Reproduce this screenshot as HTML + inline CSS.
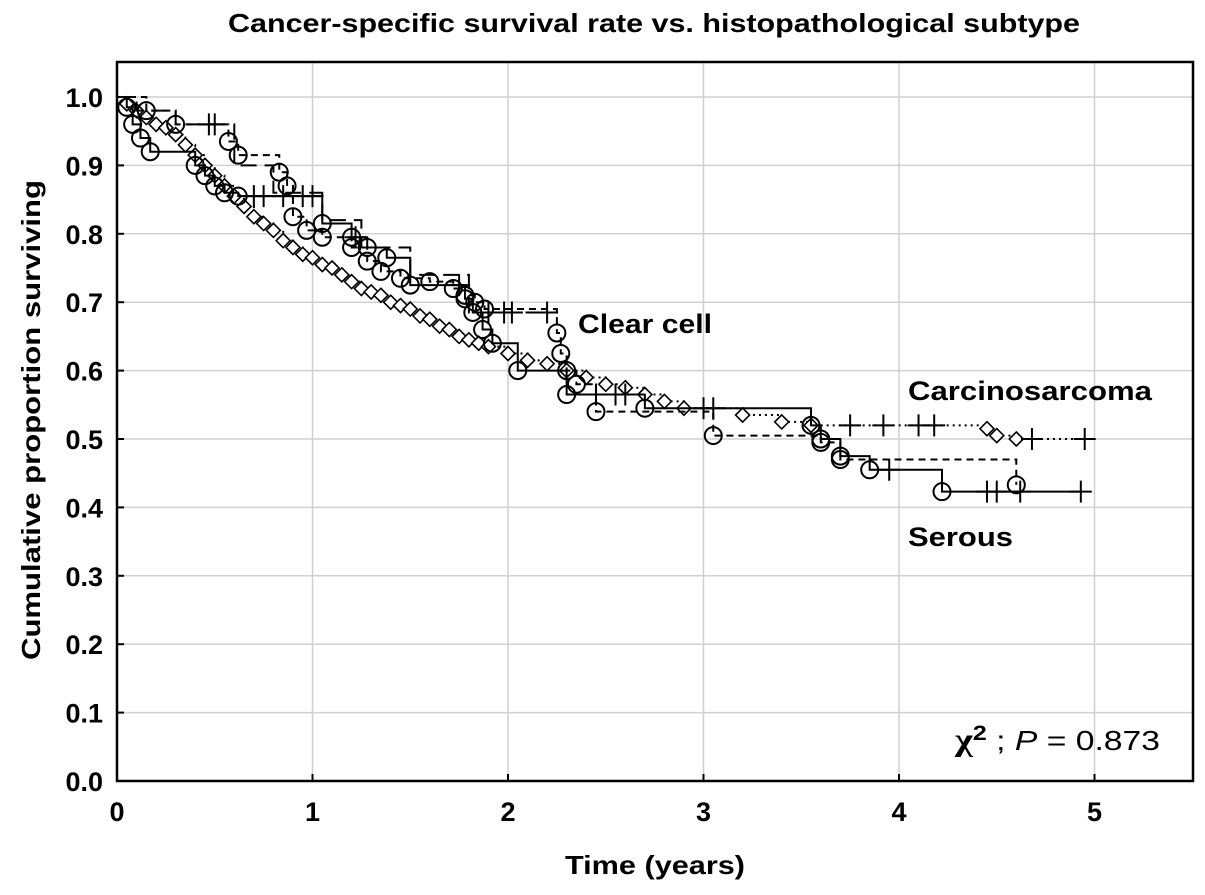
<!DOCTYPE html>
<html><head><meta charset="utf-8"><style>
body{margin:0;background:#fff}
svg{display:block;font-family:"Liberation Sans",Arial,sans-serif}
</style></head><body>
<svg id="c" width="1205" height="895" xmlns="http://www.w3.org/2000/svg">
<text x="228" y="32" font-size="26" font-weight="bold" textLength="852" lengthAdjust="spacingAndGlyphs">Cancer-specific survival rate vs. histopathological subtype</text>
<g id="grid"></g>
<g id="axes"></g>
<g id="series"></g>
<text transform="translate(40,660) rotate(-90)" font-size="26" font-weight="bold" textLength="480" lengthAdjust="spacingAndGlyphs">Cumulative proportion surviving</text>
<text x="565" y="874" font-size="26" font-weight="bold" textLength="180" lengthAdjust="spacingAndGlyphs">Time (years)</text>
<text x="578" y="333" font-size="27" font-weight="bold" textLength="134" lengthAdjust="spacingAndGlyphs">Clear cell</text>
<text x="908" y="400" font-size="27" font-weight="bold" textLength="244" lengthAdjust="spacingAndGlyphs">Carcinosarcoma</text>
<text x="908" y="546" font-size="27" font-weight="bold" textLength="105" lengthAdjust="spacingAndGlyphs">Serous</text>
<text x="955" y="750" font-size="28" textLength="205" lengthAdjust="spacingAndGlyphs"><tspan font-weight="bold" font-family="Liberation Serif,serif" font-size="32">χ</tspan><tspan font-weight="bold" dy="-10" font-size="21">2</tspan><tspan dy="10"> ; </tspan><tspan font-style="italic">P</tspan><tspan> = 0.873</tspan></text>
</svg>
<script>
const xTicks=[0,1,2,3,4,5];
const yTicks=[0,0.1,0.2,0.3,0.4,0.5,0.6,0.7,0.8,0.9,1.0];
const serousT=[0.05,0.08,0.12,0.17,0.4,0.45,0.5,0.55,0.62,1.05,1.2,1.28,1.38,1.5,1.78,1.82,1.87,1.92,2.05,2.3,2.7,3.55,3.6,3.7,3.85,4.22];
const serousS=[0.985,0.96,0.94,0.92,0.9,0.885,0.87,0.86,0.855,0.815,0.795,0.78,0.765,0.725,0.705,0.685,0.66,0.64,0.6,0.565,0.545,0.52,0.5,0.475,0.455,0.423];
const serousCensT=[0.7,0.75,0.85,0.95,1.0,1.22,1.75,2.45,2.55,2.6,3.0,3.05,3.95,4.45,4.5,4.62,4.93];
const serousEnd=4.93;
const dashT=[0.15,0.3,0.57,0.62,0.83,0.87,0.9,0.97,1.05,1.2,1.28,1.35,1.45,1.6,1.72,1.78,1.83,1.88,2.25,2.27,2.3,2.35,2.45,3.05,3.6,3.7,4.6];
const dashS=[0.98,0.96,0.935,0.915,0.89,0.87,0.825,0.805,0.795,0.78,0.76,0.745,0.735,0.73,0.72,0.71,0.7,0.69,0.655,0.625,0.6,0.58,0.54,0.505,0.495,0.47,0.433];
const dashCensT=[0.5];
const dashEnd=4.6;
const clearT=[0.1,0.3,0.6,0.8,1.05,1.25,1.5,1.8];
const clearS=[0.98,0.96,0.9,0.86,0.82,0.78,0.74,0.685];
const clearCensT=[0.47,1.9,1.98,2.02,2.2];
const clearEnd=2.25;
const carcT=[0.05,0.1,0.15,0.2,0.25,0.3,0.35,0.4,0.45,0.5,0.55,0.6,0.65,0.7,0.75,0.8,0.85,0.9,0.95,1.0,1.05,1.1,1.15,1.2,1.25,1.3,1.35,1.4,1.45,1.5,1.55,1.6,1.65,1.7,1.75,1.8,1.85,1.9,2.0,2.1,2.2,2.3,2.4,2.5,2.6,2.7,2.8,2.9,3.2,3.4,3.55,4.45,4.5,4.6];
const carcS=[0.99,0.98,0.97,0.96,0.955,0.945,0.93,0.915,0.9,0.885,0.87,0.855,0.84,0.825,0.815,0.805,0.79,0.78,0.77,0.765,0.755,0.75,0.74,0.73,0.72,0.715,0.71,0.7,0.695,0.69,0.68,0.675,0.665,0.66,0.65,0.645,0.64,0.635,0.625,0.615,0.61,0.6,0.59,0.58,0.575,0.565,0.555,0.545,0.535,0.525,0.52,0.515,0.505,0.5];
const carcCensT=[3.75,3.92,4.1,4.18,4.68,4.95];
const carcEnd=4.95;

const NS="http://www.w3.org/2000/svg";
const X0=117,XR=1193,YT=62,YB=781;
const xs=t=>X0+195.5*t;
const ys=s=>YB-684*s;
function mk(tag,attrs,parent){const e=document.createElementNS(NS,tag);for(const k in attrs)e.setAttribute(k,attrs[k]);parent.appendChild(e);return e;}
const grid=document.getElementById('grid'),axes=document.getElementById('axes'),ser=document.getElementById('series');
xTicks.forEach(t=>{
  const l=mk('line',{x1:xs(t),x2:xs(t),y1:YT,y2:YB,stroke:'#d0d0d0','stroke-width':1.5},grid);
  
  
  mk('line',{x1:xs(t),x2:xs(t),y1:YB,y2:YB-7,stroke:'#000','stroke-width':2},axes);
  const tx=mk('text',{x:xs(t),y:YB+40,'text-anchor':'middle','font-size':27,'font-weight':'bold'},axes);
  tx.textContent=String(t);
  
  
});
yTicks.forEach(v=>{
  const l=mk('line',{x1:X0,x2:XR,y1:ys(v),y2:ys(v),stroke:'#d0d0d0','stroke-width':1.5},grid);
  
  
  mk('line',{x1:X0,x2:X0+7,y1:ys(v),y2:ys(v),stroke:'#000','stroke-width':2},axes);
  const tx=mk('text',{x:X0-14,y:ys(v)+10,'text-anchor':'end','font-size':27,'font-weight':'bold'},axes);
  tx.textContent=v.toFixed(1);
  
  
});
const frame=mk('rect',{x:X0,y:YT,width:XR-X0,height:YB-YT,fill:'none',stroke:'#000','stroke-width':2.5},axes);



function survAt(T,S,t){let s=1;for(let i=0;i<T.length;i++){if(T[i]<=t)s=S[i];}return s;}
function drawSeries(name,T,S,censT,end,dash,marker){
  const g=mk('g',{},ser);
  
  
  let d='M'+xs(0)+','+ys(1);
  T.forEach((t,i)=>{d+=' H'+xs(t)+' V'+ys(S[i]);});
  d+=' H'+xs(end);
  mk('path',{d:d,fill:'none',stroke:'#000','stroke-width':2,'stroke-dasharray':dash},g);
  T.forEach((t,i)=>{
    const cx=xs(t),cy=ys(S[i]);
    let m;
    if(marker==='circle'){m=mk('circle',{cx:cx,cy:cy,r:8.5,fill:'none',stroke:'#000','stroke-width':2},g);}
    else if(marker==='diamond'){m=mk('path',{d:`M${cx},${cy-7} L${cx+7},${cy} L${cx},${cy+7} L${cx-7},${cy} Z`,fill:'#fff',stroke:'#000','stroke-width':1.6},g);}
    else return;
    
    
  });
  censT.forEach(t=>{
    const cx=xs(t),cy=ys(survAt(T,S,t));
    const c=mk('path',{d:`M${cx-11},${cy} H${cx+11} M${cx},${cy-11} V${cy+11}`,stroke:'#000','stroke-width':2,fill:'none'},g);
    
    
  });
}
drawSeries('carcinosarcoma-curve',carcT,carcS,carcCensT,carcEnd,'2 4','diamond');
drawSeries('dashed-curve',dashT,dashS,dashCensT,dashEnd,'7 5','circle');
drawSeries('clear-cell-curve',clearT,clearS,clearCensT,clearEnd,'16 8','none');
drawSeries('serous-curve',serousT,serousS,serousCensT,serousEnd,'none','circle');
</script>
</body></html>
